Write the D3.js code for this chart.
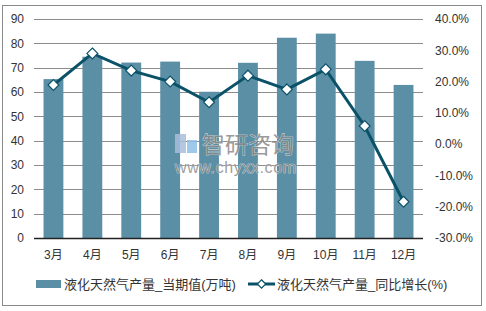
<!DOCTYPE html>
<html>
<head>
<meta charset="utf-8">
<script src="https://cdn.jsdelivr.net/npm/d3@7"></script>
<style>
body { margin: 0; background: #fff; }
svg text { font-family: "Liberation Sans", Arial, "Noto Sans CJK SC", sans-serif; fill: #333; }
.axis path, .axis line { display: none; }
.grid line { stroke: #8c8c8c; stroke-width: 1; }
</style>
</head>
<body>
<svg id="chart" width="486" height="311"></svg>
<script>
var months = ["3月", "4月", "5月", "6月", "7月", "8月", "9月", "10月", "11月", "12月"];
var output = [65.3, 74.5, 72.1, 72.5, 60.1, 72.0, 82.3, 84.0, 72.8, 62.9];
var growth = [18.9, 29.0, 23.5, 20.0, 13.4, 21.9, 17.5, 23.9, 5.8, -18.4];
var leftTicks = [0, 10, 20, 30, 40, 50, 60, 70, 80, 90];
var rightTicks = [-30, -20, -10, 0, 10, 20, 30, 40];
var barName = "液化天然气产量_当期值(万吨)";
var lineName = "液化天然气产量_同比增长(%)";

var margin = {top: 19, right: 63, bottom: 73, left: 34},
	width = 486 - margin.left - margin.right,
	height = 311 - margin.top - margin.bottom;

var barColor = "#5b8fa6", lineColor = "#0b5268";

var svg = d3.select("#chart");

// outer frame
svg.append("rect")
	.attr("x", 2.5).attr("y", 5.5)
	.attr("width", 479).attr("height", 300)
	.attr("fill", "none").attr("stroke", "#8a8a8a");

var g = svg.append("g")
	.attr("transform", "translate(" + margin.left + "," + margin.top + ")");

var xScale = d3.scaleBand().domain(months).range([0, width]).paddingInner(0.49).paddingOuter(0.245);
var yLeft = d3.scaleLinear().domain([0, 90]).range([height, 0]);
var yRight = d3.scaleLinear().domain([-30, 40]).range([height, 0]);
var xPoint = function(d) { return xScale(d) + xScale.bandwidth() / 2; };

// gridlines
g.append("g").attr("class", "grid")
	.selectAll("line")
	.data(leftTicks.slice(1))
	.enter().append("line")
	.attr("x1", 0).attr("x2", width)
	.attr("y1", function(d) { return Math.round(yLeft(d)) + 0.5; })
	.attr("y2", function(d) { return Math.round(yLeft(d)) + 0.5; });

// bars
g.selectAll(".bar")
	.data(output)
	.enter().append("rect")
	.attr("class", "bar")
	.attr("x", function(d, i) { return xScale(months[i]); })
	.attr("width", xScale.bandwidth())
	.attr("y", function(d) { return yLeft(d); })
	.attr("height", function(d) { return height - yLeft(d); })
	.attr("fill", barColor);

// baseline
g.append("line")
	.attr("x1", 0).attr("x2", width)
	.attr("y1", height + 0.5).attr("y2", height + 0.5)
	.attr("stroke", "#222").attr("stroke-width", 1.5);

// axes
var yAxisL = d3.axisLeft(yLeft).tickValues(leftTicks).tickSize(0).tickPadding(10);
var yAxisR = d3.axisRight(yRight).tickValues(rightTicks).tickSize(0).tickPadding(12)
	.tickFormat(function(d) { return d.toFixed(1) + "%"; });
var xAxis = d3.axisBottom(xScale).tickSize(0).tickPadding(12);

g.append("g").attr("class", "axis").call(yAxisL)
	.selectAll("text").style("font-size", "12px").style("fill", "#333");
g.append("g").attr("class", "axis")
	.attr("transform", "translate(" + width + ",0)")
	.call(yAxisR)
	.selectAll("text").style("font-size", "12px").style("fill", "#333");
g.append("g").attr("class", "axis")
	.attr("transform", "translate(0," + height + ")")
	.call(xAxis)
	.selectAll("text").style("font-size", "12px").style("fill", "#333");

// watermark
var wm = svg.append("g").attr("opacity", 0.85);
wm.append("rect").attr("x", 175).attr("y", 134).attr("width", 11).attr("height", 19).attr("fill", "#a9bfdc");
wm.append("rect").attr("x", 187).attr("y", 140).attr("width", 10).attr("height", 13).attr("fill", "#8fc0e8");
wm.append("text").attr("x", 202).attr("y", 153)
	.style("font-size", "23px").style("fill", "#8a8a8a")
	.style("stroke", "#fff").style("stroke-width", 0.6).style("paint-order", "stroke")
	.style("font-family", "Noto Sans CJK SC").text("智研咨询");
wm.append("text").attr("x", 175).attr("y", 173)
	.style("font-size", "16px").style("fill", "#8f8f8f").style("letter-spacing", "0.6px")
	.style("stroke", "#fff").style("stroke-width", 0.6).style("paint-order", "stroke")
	.text("www.chyxx.com");

// line
var line = d3.line()
	.x(function(d, i) { return xPoint(months[i]); })
	.y(function(d) { return yRight(d); });

g.append("path")
	.datum(growth)
	.attr("d", line)
	.attr("fill", "none")
	.attr("stroke", lineColor)
	.attr("stroke-width", 3);

var diamond = d3.symbol().type(d3.symbolDiamond2).size(75);
g.selectAll(".pt")
	.data(growth)
	.enter().append("path")
	.attr("class", "pt")
	.attr("d", diamond)
	.attr("transform", function(d, i) { return "translate(" + xPoint(months[i]) + "," + yRight(d) + ")"; })
	.attr("fill", "#fff")
	.attr("stroke", lineColor)
	.attr("stroke-width", 1.2);

// legend
var legend = svg.append("g").attr("transform", "translate(0,284)");
legend.append("rect")
	.attr("x", 36).attr("y", -4).attr("width", 25).attr("height", 8)
	.attr("fill", barColor);
legend.append("text")
	.attr("x", 64).attr("y", 5)
	.style("font-size", "13px")
	.text(barName);
legend.append("line")
	.attr("x1", 248).attr("x2", 275).attr("y1", 0).attr("y2", 0)
	.attr("stroke", lineColor).attr("stroke-width", 3);
legend.append("path")
	.attr("d", d3.symbol().type(d3.symbolDiamond2).size(45))
	.attr("transform", "translate(261.5,0)")
	.attr("fill", "#fff").attr("stroke", lineColor).attr("stroke-width", 1.2);
legend.append("text")
	.attr("x", 277).attr("y", 5)
	.style("font-size", "13px")
	.text(lineName);
</script>
</body>
</html>
